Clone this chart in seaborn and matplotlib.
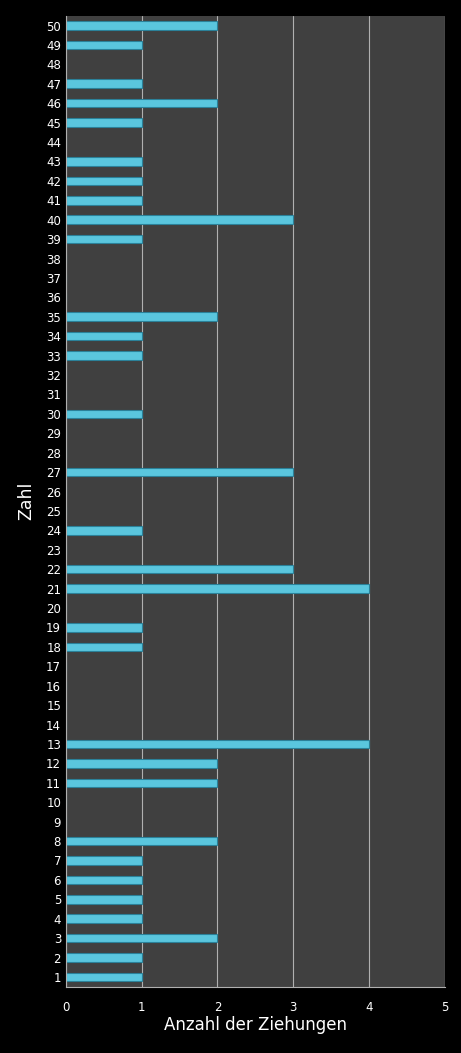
import matplotlib
matplotlib.use("Agg")
import matplotlib.pyplot as plt
import seaborn as sns
import pandas as pd

zahlen = list(range(1, 51))
anzahl = [1, 1, 2, 1, 1, 1, 1, 2, 0, 0,
          2, 2, 4, 0, 0, 0, 0, 1, 1, 0,
          4, 3, 0, 1, 0, 0, 3, 0, 0, 1,
          0, 0, 1, 1, 2, 0, 0, 0, 1, 3,
          1, 1, 1, 0, 1, 2, 1, 0, 1, 2]
x_ticks = [0, 1, 2, 3, 4, 5]

sns.set_theme(style="dark")
plt.rcParams['font.family'] = ['DejaVu Sans']

df = pd.DataFrame({"Zahl": [str(z) for z in zahlen], "Anzahl": anzahl})
order = [str(z) for z in reversed(zahlen)]

fig = plt.figure(figsize=(4.61, 10.53), dpi=100, facecolor="black")
ax = fig.add_axes([0.143, 0.063, 0.822, 0.922])
ax.set_facecolor("#404040")

sns.barplot(data=df, x="Anzahl", y="Zahl", order=order, orient="h",
            color="#5ac6de", edgecolor="#2b8199", linewidth=0.8,
            width=0.44, saturation=1, ax=ax)

ax.set_xlim(0, 5)
ax.set_xticks(x_ticks)
ax.xaxis.grid(True, color="#b0b0b0", linewidth=0.8)
ax.yaxis.grid(False)
ax.set_axisbelow(True)
for s in ["top", "right"]:
    ax.spines[s].set_visible(False)
for s in ["left", "bottom"]:
    ax.spines[s].set_visible(True)
    ax.spines[s].set_color("#b0b0b0")
    ax.spines[s].set_linewidth(0.8)
ax.tick_params(axis="both", colors="white", labelsize=8.5, length=0)
ax.tick_params(axis="x", pad=10)
ax.set_xlabel("Anzahl der Ziehungen", color="white", fontsize=12, labelpad=2)
ax.set_ylabel("Zahl", color="white", fontsize=12.5, labelpad=8)

fig.savefig("out.png", dpi=100, facecolor="black")
